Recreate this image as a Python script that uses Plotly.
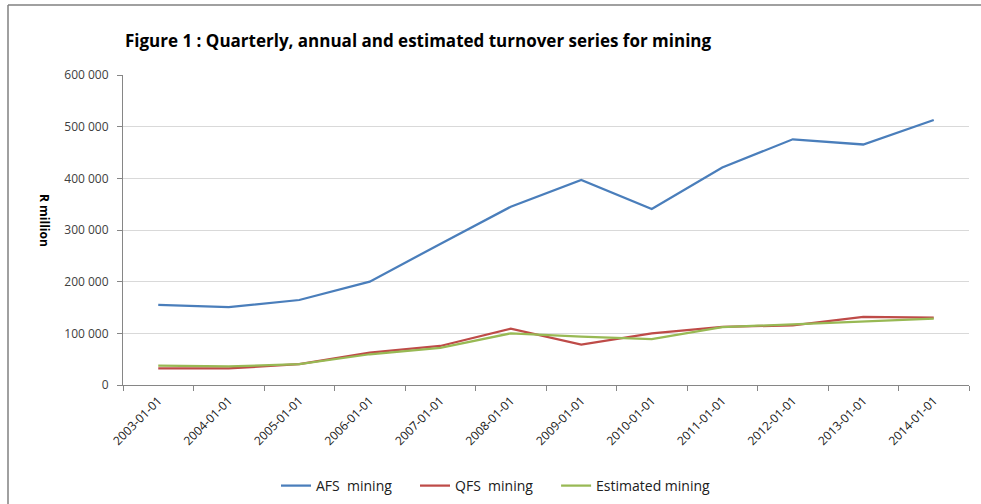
import plotly.graph_objects as go

categories = ["2003-01-01", "2004-01-01", "2005-01-01", "2006-01-01", "2007-01-01", "2008-01-01",
              "2009-01-01", "2010-01-01", "2011-01-01", "2012-01-01", "2013-01-01", "2014-01-01"]
afs_mining = [155000, 150500, 164500, 200000, 273000, 345000, 397000, 340500, 421000, 475500, 465500, 513000]
qfs_mining = [32000, 32000, 40500, 62500, 75500, 109000, 78000, 100000, 112500, 115500, 132000, 130500]
estimated_mining = [37500, 36000, 40500, 59500, 72000, 100000, 93500, 89000, 112000, 117500, 122500, 128500]
y_ticks = [0, 100000, 200000, 300000, 400000, 500000, 600000]

FONT = "Open Sans"
PAD = "\u00a0" * 5

fig = go.Figure()
series = [
    ("AFS\u00a0\u00a0mining" + PAD, afs_mining, "#4a7ebb"),
    ("QFS\u00a0\u00a0mining" + PAD, qfs_mining, "#be4b48"),
    ("Estimated mining", estimated_mining, "#98b954"),
]
for name, vals, color in series:
    fig.add_trace(go.Scatter(x=categories, y=vals, mode="lines", name=name,
                             line=dict(color=color, width=2.25)))

fig.update_layout(
    width=981, height=504,
    paper_bgcolor="white", plot_bgcolor="white",
    margin=dict(l=123, r=12, t=75, b=119, autoexpand=False),
    separators=". ",
    font=dict(family=FONT, size=11, color="#404040"),
    title=dict(text="<b>Figure 1 : Quarterly, annual and estimated turnover series for mining</b>",
               font=dict(family=FONT, size=17, color="black"),
               xref="container", x=125/981, xanchor="left",
               yref="container", y=1-41/504, yanchor="middle"),
    showlegend=True,
    legend=dict(orientation="h", xref="container", x=276/981, xanchor="left",
                yref="container", y=1-486/504, yanchor="middle",
                font=dict(family=FONT, size=14, color="#202020"),
                itemwidth=30, tracegroupgap=0),
    xaxis=dict(type="category", categoryorder="array", categoryarray=categories,
               tickangle=-45, showgrid=False, showline=True, linecolor="#868686", linewidth=1,
               ticks="outside", tickson="boundaries", ticklen=5, tickcolor="#868686",
               tickfont=dict(family=FONT, size=12, color="#202020"),
               ticklabelstandoff=3,
               range=[-0.5, 11.5], automargin=False),
    yaxis=dict(range=[0, 600000], tickvals=y_ticks, tickformat=",d",
               showgrid=True, gridcolor="#d9d9d9", gridwidth=1,
               showline=True, linecolor="#868686", linewidth=1,
               ticks="outside", ticklen=5, tickcolor="#868686",
               zeroline=False, ticklabelstandoff=6, automargin=False,
               tickfont=dict(family=FONT, size=12, color="#404040")),
    annotations=[dict(text="<b>R million</b>", textangle=90, xref="paper", yref="paper",
                      x=(45-123)/846, y=(385-220)/310, xanchor="center", yanchor="middle",
                      showarrow=False, font=dict(family=FONT, size=12, color="black"))],
    shapes=[
        dict(type="line", xref="paper", yref="paper", x0=(8-123)/846, x1=(8-123)/846,
             y0=(385-5)/310, y1=(385-504)/310, line=dict(color="#808080", width=1.5)),
        dict(type="line", xref="paper", yref="paper", x0=(8-123)/846, x1=(981-123)/846,
             y0=(385-5)/310, y1=(385-5)/310, line=dict(color="#808080", width=1.5)),
    ],
)

fig.write_html("out.html", config={"displayModeBar": False},
               post_script="document.body.style.margin='0';document.body.style.overflow='hidden';")
